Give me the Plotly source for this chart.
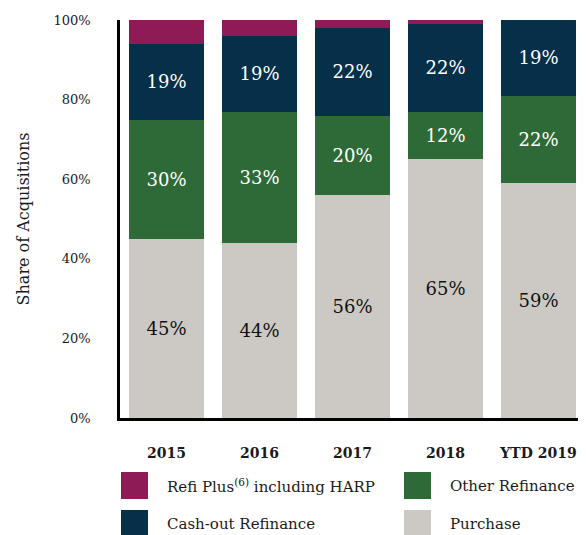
import plotly.graph_objects as go

categories = ["2015", "2016", "2017", "2018", "YTD 2019"]
purchase = [45, 44, 56, 65, 59]
other_refi = [30, 33, 20, 12, 22]
cashout_refi = [19, 19, 22, 22, 19]
refi_plus = [6, 4, 2, 1, 0.4]
y_ticks = [0, 20, 40, 60, 80, 100]
y_tick_labels = ["0%", "20%", "40%", "60%", "80%", "100%"]

FONT = "DejaVu Serif"
C_REFI = "#8E1A56"
C_CASH = "#06304A"
C_OTHER = "#2E6A38"
C_PURCH = "#CCC9C4"

# page has an 8px body margin; figure coords = page coords - 8
OFF = 8
W, H = 586 - OFF, 535 - OFF
pl, pt = 120 - OFF, 20 - OFF
pr = 1
pb = H - (418 - OFF)

fig = go.Figure()

def add(vals, name, color, tcolor, show_text=True):
    kw = {}
    if show_text:
        kw = dict(text=[f"{v:.0f}%" for v in vals], textposition="inside",
                  insidetextanchor="middle", textangle=0,
                  textfont=dict(family=FONT, size=18, color=tcolor))
    fig.add_trace(go.Bar(
        x=categories, y=vals, name=name, marker=dict(color=color, line=dict(width=0)),
        hoverinfo="x+y+name", showlegend=False, **kw,
    ))

add(purchase, "Purchase", C_PURCH, "#111111")
add(other_refi, "Other Refinance", C_OTHER, "white")
add(cashout_refi, "Cash-out Refinance", C_CASH, "white")
add(refi_plus, "Refi Plus(6) including HARP", C_REFI, "white", show_text=False)

fig.update_layout(
    width=W, height=H,
    margin=dict(l=pl, r=pr, t=pt, b=pb, pad=0),
    barmode="stack", bargap=0.19,
    paper_bgcolor="white", plot_bgcolor="white",
    font=dict(family=FONT, color="#1a1a1a"),
    showlegend=False,
)
fig.update_xaxes(
    showline=True, linecolor="black", linewidth=2.5,
    showgrid=False, ticks="", tickfont=dict(family=FONT, size=14, color="#1a1a1a", weight="bold"),
    ticklabelstandoff=20,
)
fig.update_yaxes(
    range=[0, 100], tickvals=y_ticks, ticktext=y_tick_labels,
    showline=True, linecolor="black", linewidth=2.5, showgrid=False, zeroline=False,
    ticks="", tickfont=dict(family=FONT, size=13, color="#1a1a1a"),
    ticklabelstandoff=24,
    title=dict(text="Share of Acquisitions", font=dict(family=FONT, size=16, color="#1a1a1a"), standoff=20),
)

# custom legend (large square swatches, two columns) in page pixel coords
legend_items = [
    ("Refi Plus<sup>(6)</sup> including HARP", C_REFI, 121, 472),
    ("Other Refinance", C_OTHER, 404, 472),
    ("Cash-out Refinance", C_CASH, 121, 510),
    ("Purchase", C_PURCH, 404, 510),
]
pw, ph = W - pl - pr, H - pt - pb
def px(x):
    return (x - OFF - pl) / pw
def py(y):
    return 1 - (y - OFF - pt) / ph
for label, color, x0, y0 in legend_items:
    fig.add_shape(type="rect", xref="paper", yref="paper",
                  x0=px(x0), x1=px(x0 + 27), y0=py(y0 + 27), y1=py(y0),
                  fillcolor=color, line=dict(width=0))
    fig.add_annotation(xref="paper", yref="paper", x=px(x0 + 44), y=py(y0 + 14),
                       text=label, showarrow=False, xanchor="left", yanchor="middle",
                       font=dict(family=FONT, size=15, color="#1a1a1a"))

fig.write_html("out.html")
